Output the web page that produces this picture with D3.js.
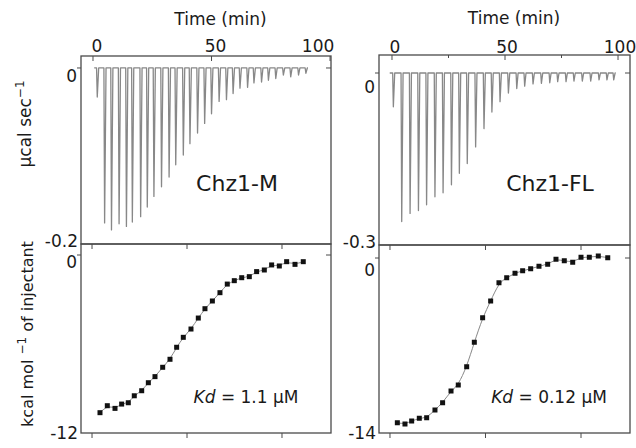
<!DOCTYPE html>
<html lang="en">
<head>
<meta charset="UTF-8">
<title>ITC - Chz1-M / Chz1-FL</title>
<style>
  body { margin: 0; background: #fff; }
  text { font-family: "DejaVu Sans", "Liberation Sans", Arial, sans-serif; fill: #1a1a1a; }
  .frame { fill: none; stroke: #4a4a4a; stroke-width: 1.3px; }
  .tick { stroke: #4a4a4a; stroke-width: 1px; }
  .raw { fill: none; stroke: #888; stroke-width: 1.3px; stroke-linejoin: round; }
  .fit { fill: none; stroke: #888; stroke-width: 1px; }
  .pt { fill: #111; }
</style>
</head>
<body>
<svg id="chart" width="636" height="448"></svg>
<script src="https://d3js.org/d3.v7.min.js"></script>
<script>
// ---- raw thermograms (injection time in min, peak power in ucal/sec) ----
var mTimes = [1.5, 4.6, 7.5, 10.7, 13.8, 16.3, 19.8, 22.6, 25.4, 28.6, 31.8, 34.6, 37.8, 40.6, 43.8,
              46.8, 49.7, 52.9, 56.0, 58.8, 61.7, 64.9, 67.6, 70.8, 73.7, 76.8, 80.0, 83.1, 86.4, 89.5];
var mPeaks = [-0.033, -0.176, -0.184, -0.177, -0.180, -0.175, -0.169, -0.158, -0.146, -0.135, -0.124,
              -0.110, -0.099, -0.086, -0.074, -0.063, -0.052, -0.038, -0.036, -0.029, -0.023, -0.022,
              -0.017, -0.016, -0.014, -0.012, -0.008, -0.010, -0.008, -0.006];
var flTimes = [0.3, 4.0, 7.7, 11.4, 15.0, 18.7, 22.3, 26.0, 29.5, 33.0, 36.7, 40.4, 43.9, 47.5,
               51.2, 54.9, 58.4, 62.1, 65.8, 69.5, 73.0, 76.7, 80.2, 83.9, 87.6, 91.3, 94.8, 97.8];
var flPeaks = [-0.059, -0.259, -0.245, -0.240, -0.230, -0.216, -0.209, -0.195, -0.175, -0.158, -0.129,
               -0.097, -0.068, -0.050, -0.035, -0.027, -0.023, -0.019, -0.018, -0.017, -0.015, -0.015,
               -0.014, -0.014, -0.014, -0.012, -0.012, -0.012];

// ---- integrated heats (molar ratio, kcal/mol of injectant) ----
var mRatio = [0.084, 0.161, 0.242, 0.312, 0.382, 0.445, 0.523, 0.593, 0.663, 0.744, 0.821, 0.891, 0.961,
              1.042, 1.119, 1.189, 1.267, 1.347, 1.424, 1.498, 1.576, 1.656, 1.733, 1.814, 1.891, 1.972,
              2.049, 2.137, 2.224];
var mHeat = [-10.63, -10.16, -10.34, -10.05, -9.96, -9.49, -9.15, -8.61, -8.20, -7.57, -7.03, -6.22, -5.55,
             -4.99, -4.25, -3.62, -3.10, -2.54, -1.96, -1.73, -1.53, -1.46, -1.12, -1.01, -0.67, -0.74,
             -0.45, -0.63, -0.45];
var flRatio = [0.077, 0.157, 0.227, 0.307, 0.384, 0.471, 0.551, 0.639, 0.715, 0.803, 0.883, 0.970, 1.054,
               1.141, 1.222, 1.309, 1.389, 1.473, 1.560, 1.651, 1.738, 1.825, 1.913, 2.000, 2.087, 2.181, 2.280];
var flHeat = [-13.18, -13.28, -13.04, -12.82, -12.78, -12.16, -11.58, -10.64, -10.16, -8.70, -6.74, -4.78,
              -3.44, -1.98, -1.58, -1.22, -1.02, -0.86, -0.66, -0.50, -0.10, -0.22, -0.34, 0.06, 0.06, 0.16, 0.02];

var timeTicks = [0, 50, 100];
var timeMinor = [25, 75];
var ratioTicks = [0, 1, 2];

var svg = d3.select("#chart");

function frame(x0, x1, y0, y1) {
    svg.append("rect").attr("class", "frame")
        .attr("x", x0).attr("y", y0).attr("width", x1 - x0).attr("height", y1 - y0);
}

function yTick(x0, x1, y, label, dy) {
    svg.append("line").attr("class", "tick").attr("x1", x0 - 4).attr("x2", x0).attr("y1", y).attr("y2", y);
    svg.append("line").attr("class", "tick").attr("x1", x1 - 5).attr("x2", x1).attr("y1", y).attr("y2", y);
    svg.append("text").attr("x", x0 - 4).attr("y", y + dy).attr("text-anchor", "end")
        .attr("font-size", 17).text(label);
}

// top panel: thermogram
function drawRaw(p, times, peaks, tStart, tEnd, yMin, minor) {
    var x = d3.scaleLinear().domain(p.xd).range([p.x0, p.x1]);
    var y = d3.scaleLinear().domain([yMin, p.ytop]).range([p.y1, p.y0]);
    frame(p.x0, p.x1, p.y0, p.y1);

    timeTicks.forEach(function (t, i) {
        svg.append("line").attr("class", "tick")
            .attr("x1", x(t)).attr("x2", x(t)).attr("y1", p.y0).attr("y2", p.y0 + 5);
        svg.append("text").attr("x", x(t) + p.labDx[i]).attr("y", p.y0 - p.lab)
            .attr("text-anchor", "middle").attr("font-size", 17).text(t);
    });
    minor.forEach(function (t) {
        svg.append("line").attr("class", "tick")
            .attr("x1", x(t)).attr("x2", x(t)).attr("y1", p.y0).attr("y2", p.y0 + 3);
    });
    svg.append("text").attr("x", (x(0) + x(100)) / 2 + 9).attr("y", p.y0 - 31)
        .attr("text-anchor", "middle").attr("font-size", 17).text("Time (min)");

    var pts = [[tStart, 0]];
    times.forEach(function (t, i) {
        pts.push([t, 0], [t + 0.3, peaks[i]], [t + 0.9, 0]);
    });
    pts.push([tEnd, 0]);
    svg.append("path").attr("class", "raw")
        .attr("d", d3.line().x(function (d) { return x(d[0]); }).y(function (d) { return y(d[1]); })(pts));

    yTick(p.x0, p.x1, y(0), "0", p.zeroDy);
    svg.append("text").attr("x", p.x0 - 3).attr("y", y(yMin) + 3).attr("text-anchor", "end")
        .attr("font-size", 17).text(yMin);
    svg.append("text").attr("x", p.nameX).attr("y", 191)
        .attr("text-anchor", "middle").attr("font-size", 22).text(p.name);
}

// bottom panel: binding isotherm
function drawIso(p, ratio, heat, yMin, kd) {
    var x = d3.scaleLinear().domain(p.xd).range([p.x0, p.x1]);
    var y = d3.scaleLinear().domain([yMin, p.ytop]).range([p.y1, p.y0]);
    frame(p.x0, p.x1, p.y0, p.y1);

    ratioTicks.forEach(function (r) {
        svg.append("line").attr("class", "tick")
            .attr("x1", x(r)).attr("x2", x(r)).attr("y1", p.y0).attr("y2", p.y0 + 5);
        svg.append("line").attr("class", "tick")
            .attr("x1", x(r)).attr("x2", x(r)).attr("y1", p.y1).attr("y2", p.y1 + 5);
    });

    var pts = ratio.map(function (r, i) { return [r, heat[i]]; });
    svg.append("path").attr("class", "fit")
        .attr("d", d3.line().curve(d3.curveBasis)
            .x(function (d) { return x(d[0]); }).y(function (d) { return y(d[1]); })(pts));
    svg.selectAll(null).data(pts).enter().append("rect").attr("class", "pt")
        .attr("x", function (d) { return x(d[0]) - 2.5; })
        .attr("y", function (d) { return y(d[1]) - 2.5; })
        .attr("width", 5).attr("height", 5);

    yTick(p.x0, p.x1, y(0), "0", p.zeroDy);
    svg.append("text").attr("x", p.x0 - 3).attr("y", y(yMin) + 6).attr("text-anchor", "end")
        .attr("font-size", 17).text(yMin);

    var t = svg.append("text").attr("x", p.kdX).attr("y", 403)
        .attr("text-anchor", "middle").attr("font-size", 17);
    t.append("tspan").attr("font-style", "italic").text("Kd");
    t.append("tspan").text(" = " + kd + " \u00b5M");
}

var left = { x0: 81, x1: 331 }, right = { x0: 379, x1: 630 };

drawRaw({ x0: left.x0, x1: left.x1, y0: 56, y1: 244, xd: [-5.06, 100.4], ytop: 0.0136,
          lab: 4, labDx: [4, 4, -12], zeroDy: 14, name: "Chz1-M", nameX: 237 },
        mTimes, mPeaks, 0.5, 90.7, -0.2, []);
drawRaw({ x0: right.x0, x1: right.x1, y0: 55, y1: 245, xd: [-5.75, 105.3], ytop: 0.0314,
          lab: 2, labDx: [3, 2, 2], zeroDy: 20, name: "Chz1-FL", nameX: 550 },
        flTimes, flPeaks, -1, 99, -0.3, timeMinor);
drawIso({ x0: left.x0, x1: left.x1, y0: 244, y1: 433, xd: [-0.116, 2.516], ytop: 0.742,
          zeroDy: 13, kdX: 246 },
        mRatio, mHeat, -12, "1.1");
drawIso({ x0: right.x0, x1: right.x1, y0: 245, y1: 433, xd: [-0.115, 2.513], ytop: 1.04,
          zeroDy: 18, kdX: 549 },
        flRatio, flHeat, -14, "0.12");

// y axis titles
var yl1 = svg.append("text").attr("transform", "translate(31,124) rotate(-90)")
    .attr("text-anchor", "middle").attr("font-size", 17);
yl1.append("tspan").text("\u00b5cal sec");
yl1.append("tspan").attr("dy", -7).attr("font-size", 12).text("\u22121");

var yl2 = svg.append("text").attr("transform", "translate(33,334) rotate(-90)")
    .attr("text-anchor", "middle").attr("font-size", 16);
yl2.append("tspan").text("kcal mol ");
yl2.append("tspan").attr("dy", -7).attr("font-size", 12).text("\u22121");
yl2.append("tspan").attr("dy", 7).text(" of injectant");
</script>
</body>
</html>
